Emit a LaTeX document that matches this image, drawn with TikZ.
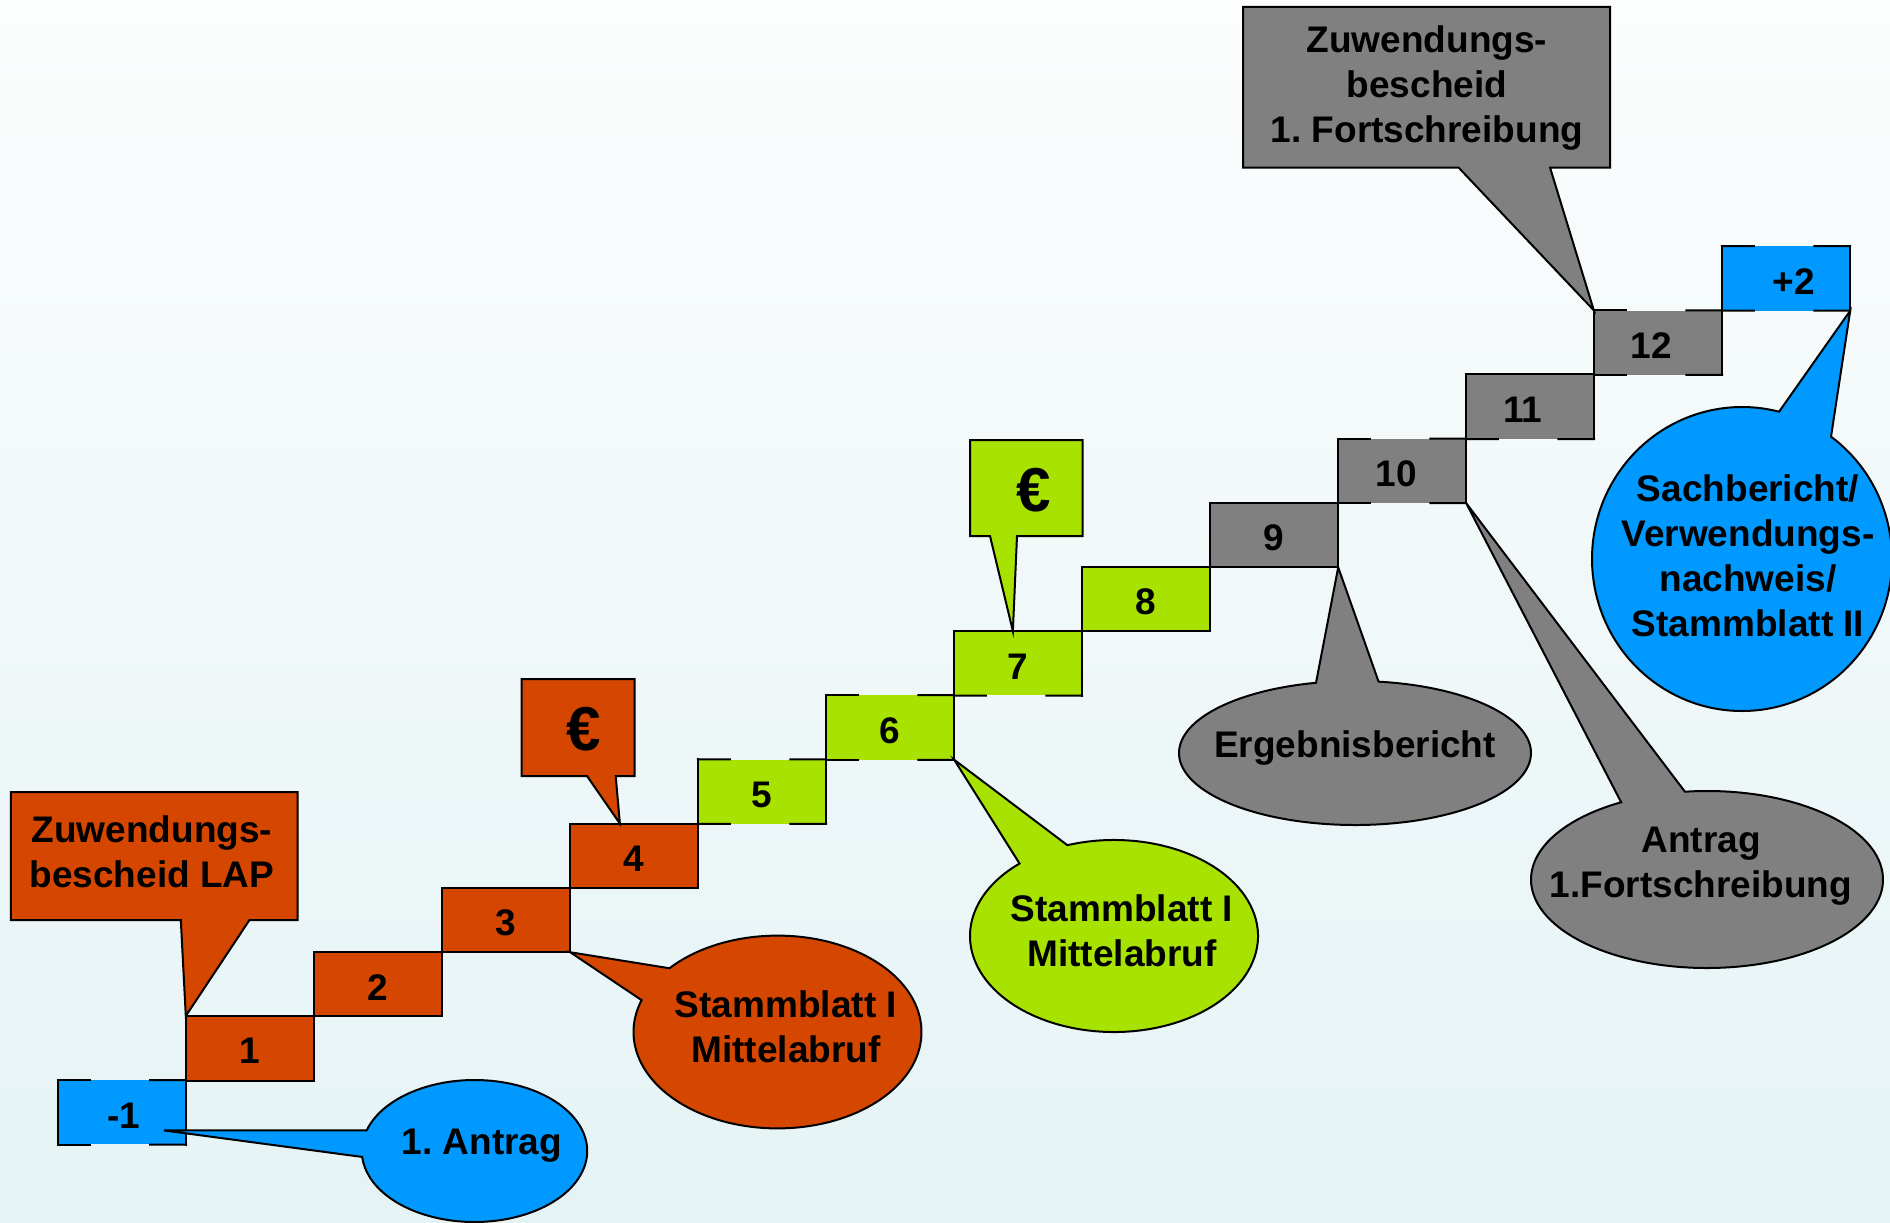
\documentclass[tikz,border=0pt]{standalone}
\usepackage{fontspec}
\setmainfont{Liberation Sans}
\usetikzlibrary{calc}
\definecolor{cOrange}{RGB}{213,70,0}
\definecolor{cGreen}{RGB}{168,226,0}
\definecolor{cGray}{RGB}{128,128,128}
\definecolor{cBlue}{RGB}{0,153,255}
\definecolor{bgTop}{RGB}{252,253,253}
\definecolor{bgBot}{RGB}{229,243,245}
\newcommand\bigfont{\fontsize{37}{45}\selectfont\bfseries\frenchspacing}
\newcommand\eurofont{\fontsize{62}{62}\selectfont\bfseries}
\newcommand\hedge[3]{%
  \ifnum#3=1
    \draw[edgeline] (#1) -- ($(#1)!0.25!(#2)$);
    \draw[edgeline] ($(#1)!0.72!(#2)$) -- (#2);
  \else
    \draw[edgeline] (#1) -- (#2);
  \fi}
\newcommand\stepbox[7][0]{%
  \node[stepnode, fill=#5] (#2) at ({122+128*#3},{1112.4-64.15*#3}) {};
  \node[steplabel] (#2t) at ($(#2.center)+(#1,3)$) {#4};
  \draw[edgeline] (#2.north west) -- (#2.south west);
  \draw[edgeline] (#2.north east) -- (#2.south east);
  \hedge{#2.north west}{#2.north east}{#6}
  \hedge{#2.south west}{#2.south east}{#7}}
\begin{document}
\begin{tikzpicture}[x=1pt,y=-1pt,
  stepnode/.style={rectangle, minimum width=128pt, minimum height=64.15pt, inner sep=0pt},
  steplabel/.style={inner sep=0pt, font=\bigfont},
  txt/.style={align=center, font=\bigfont, inner sep=0pt},
  eurotxt/.style={inner sep=0pt, font=\eurofont},
  callout/.style={draw=black, line width=2pt, line join=miter},
  edgeline/.style={draw=black, line width=2pt, line cap=rect}]
\useasboundingbox (0,0) rectangle (1890,1223);
\shade[top color=bgTop, bottom color=bgBot] (0,0) rectangle (1890,1223);

% steps
\stepbox[2]{bm1}{0}{-1}{cBlue}{1}{1}
\stepbox{b1}{1}{1}{cOrange}{0}{0}
\stepbox{b2}{2}{2}{cOrange}{0}{0}
\stepbox{b3}{3}{3}{cOrange}{0}{0}
\stepbox{b4}{4}{4}{cOrange}{0}{0}
\stepbox{b5}{5}{5}{cGreen}{1}{1}
\stepbox{b6}{6}{6}{cGreen}{1}{1}
\stepbox{b7}{7}{7}{cGreen}{0}{1}
\stepbox{b8}{8}{8}{cGreen}{0}{0}
\stepbox{b9}{9}{9}{cGray}{0}{0}
\stepbox[-6]{b10}{10}{10}{cGray}{1}{1}
\stepbox[-7]{b11}{11}{11}{cGray}{0}{1}
\stepbox[-7]{b12}{12}{12}{cGray}{1}{1}
\stepbox[8]{bp2}{13}{+2}{cBlue}{1}{1}

% tips
\coordinate (tipAnt) at ($(bm1.center)+(42,18)$);
\coordinate (tipE1) at ($(b4.north west)!0.39!(b4.north east)$);
\coordinate (tipE2) at ($(b7.north west)!0.46!(b7.north east)$);

% ellipse centres
\coordinate (cStO) at (777.5,1032);
\coordinate (cAnt) at (474.5,1151);
\coordinate (cStG) at (1114,936);
\coordinate (cErg) at (1355,753);
\coordinate (cAF) at (1707,879.5);
\coordinate (cSach) at (1742,559);

% rectangular callouts
\draw[callout, fill=cOrange] (10.8,792) -- (297.7,792) -- (297.7,920) -- (249.5,920)
  -- (b1.north west) -- (180.8,920) -- (10.8,920) -- cycle;
\node[txt] (tLAP) at (152,852) {Zuwendungs-\\bescheid LAP};

\draw[callout, fill=cOrange] (521.7,679) -- (634.7,679) -- (634.7,776) -- (615.7,776)
  -- (tipE1) -- (587,776) -- (521.7,776) -- cycle;
\node[eurotxt] (tEur1) at (584,729) {€};

\draw[callout, fill=cGreen] (970,440) -- (1082.7,440) -- (1082.7,536) -- (1017,536)
  -- (tipE2) -- (990,536) -- (970,536) -- cycle;
\node[eurotxt] (tEur2) at (1034,490) {€};

\draw[callout, fill=cGray] (1243,7) -- (1610,7) -- (1610,167.5) -- (1550,167.5)
  -- (b12.north west) -- (1458.5,167.5) -- (1243,167.5) -- cycle;
\node[txt] (tZF) at (1427,88) {Zuwendungs-\\bescheid\\1. Fortschreibung};

% elliptical callouts
\draw[callout, fill=cOrange] (b3.south east) -- ($(cStO)+(221.4:144 and 96.4)$)
  arc[start angle=221.4, end angle=559.3, x radius=144, y radius=96.4] -- cycle;
\node[txt] (tStO) at (786,1027) {Stammblatt I\\Mittelabruf};

\draw[callout, fill=cBlue] (tipAnt) -- ($(cAnt)+(196.8:112.7 and 71)$)
  arc[start angle=196.8, end angle=535.2, x radius=112.7, y radius=71] -- cycle;
\node[txt] (tAnt) at (482,1146) {1. Antrag};

\draw[callout, fill=cGreen] (b6.south east) -- ($(cStG)+(251.1:144 and 96)$)
  arc[start angle=251.1, end angle=589, x radius=144, y radius=96] -- cycle;
\node[txt] (tStG) at (1122,931) {Stammblatt I\\Mittelabruf};

\draw[callout, fill=cGray] (b9.south east) -- ($(cErg)+(277.7:176 and 72)$)
  arc[start angle=277.7, end angle=617.2, x radius=176, y radius=72] -- cycle;
\node[txt] (tErg) at (1355,748) {Ergebnisbericht};

\draw[callout, fill=cGray] (b10.south east) -- ($(cAF)+(262.8:176 and 88.5)$)
  arc[start angle=262.8, end angle=600.8, x radius=176, y radius=88.5] -- cycle;
\node[txt] (tAF) at (1701,866) {Antrag\\1.Fortschreibung};

\draw[callout, fill=cBlue] (bp2.south east) -- ($(cSach)+(306.4:150 and 152)$)
  arc[start angle=306.4, end angle=644.3, x radius=150, y radius=152] -- cycle;
\node[txt] (tSach) at (1748,556) {Sachbericht/\\Verwendungs-\\nachweis/\\Stammblatt II};
\end{tikzpicture}
\end{document}
